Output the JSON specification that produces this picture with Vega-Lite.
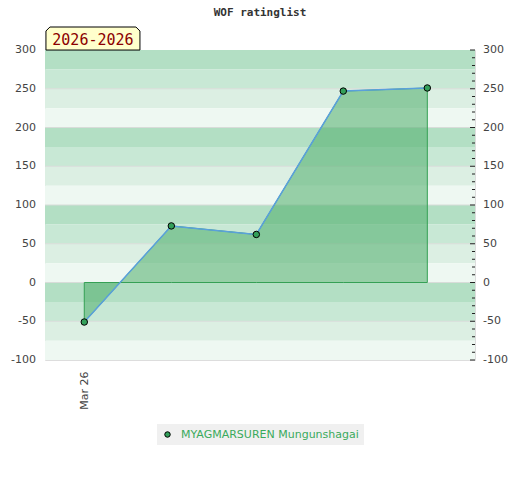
{
  "$schema": "https://vega.github.io/schema/vega-lite/v6.json",
  "width": 430,
  "height": 310,
  "autosize": "none",
  "padding": {"left": 45, "top": 50, "right": 45, "bottom": 120},
  "background": "#ffffff",
  "title": {
    "text": "WOF ratinglist",
    "font": "DejaVu Sans Mono",
    "fontSize": 11,
    "fontWeight": "bold",
    "color": "#333333",
    "anchor": "middle",
    "frame": "group",
    "offset": 7
  },
  "config": {
    "view": {"stroke": "#dddddd"},
    "axis": {"labelFont": "DejaVu Sans", "labelFontSize": 11, "labelColor": "#444444"},
    "legend": {"layout": {"bottom": {"anchor": "middle"}}}
  },
  "layer": [
    {
      "data": {"values": [
        {"lo": 275, "hi": 300, "shade": "a"}, {"lo": 250, "hi": 275, "shade": "b"},
        {"lo": 225, "hi": 250, "shade": "c"}, {"lo": 200, "hi": 225, "shade": "d"},
        {"lo": 175, "hi": 200, "shade": "a"}, {"lo": 150, "hi": 175, "shade": "b"},
        {"lo": 125, "hi": 150, "shade": "c"}, {"lo": 100, "hi": 125, "shade": "d"},
        {"lo": 75, "hi": 100, "shade": "a"}, {"lo": 50, "hi": 75, "shade": "b"},
        {"lo": 25, "hi": 50, "shade": "c"}, {"lo": 0, "hi": 25, "shade": "d"},
        {"lo": -25, "hi": 0, "shade": "a"}, {"lo": -50, "hi": -25, "shade": "b"},
        {"lo": -75, "hi": -50, "shade": "c"}, {"lo": -100, "hi": -75, "shade": "d"}
      ]},
      "mark": {"type": "rect"},
      "encoding": {
        "x": {"datum": -0.458, "type": "quantitative"},
        "x2": {"datum": 4.556},
        "y": {
          "field": "lo", "type": "quantitative",
          "scale": {"domain": [-100, 300], "nice": false},
          "axis": null
        },
        "y2": {"field": "hi"},
        "fill": {
          "field": "shade", "type": "nominal",
          "scale": {"domain": ["a", "b", "c", "d"], "range": ["#b3dfc4", "#c8e8d5", "#dcefe3", "#eef8f2"]},
          "legend": null
        }
      }
    },
    {
      "data": {"values": [
        {"v": -50}, {"v": 0}, {"v": 50}, {"v": 100}, {"v": 150}, {"v": 200}, {"v": 250}
      ]},
      "mark": {"type": "rule", "color": "#d8dcd9", "strokeWidth": 1},
      "encoding": {
        "x": {"datum": -0.458, "type": "quantitative"},
        "x2": {"datum": 4.556},
        "y": {"field": "v", "type": "quantitative", "axis": null}
      }
    },
    {
      "data": {"values": [
        {"game": 0, "rating": -51},
        {"game": 1.015, "rating": 73},
        {"game": 2.006, "rating": 62},
        {"game": 3.02, "rating": 247},
        {"game": 4.0, "rating": 251}
      ]},
      "mark": {"type": "area", "color": "#52b06e", "fillOpacity": 0.57, "stroke": "#35a055", "strokeWidth": 1},
      "encoding": {
        "x": {
          "field": "game", "type": "quantitative",
          "scale": {"domain": [-0.458, 4.556], "nice": false, "zero": false},
          "axis": {"title": null, "values": [0], "labelExpr": "'Mar 26'", "labelAngle": 270, "ticks": false, "domain": false, "grid": false, "labelPadding": 11}
        },
        "y": {"field": "rating", "type": "quantitative", "axis": null}
      }
    },
    {
      "data": {"values": [
        {"game": 0, "rating": -51},
        {"game": 1.015, "rating": 73},
        {"game": 2.006, "rating": 62},
        {"game": 3.02, "rating": 247},
        {"game": 4.0, "rating": 251}
      ]},
      "mark": {"type": "line", "color": "#5aa0dc", "strokeWidth": 1.5},
      "encoding": {
        "x": {"field": "game", "type": "quantitative"},
        "y": {"field": "rating", "type": "quantitative", "axis": null}
      }
    },
    {
      "data": {"values": [
        {"game": 0, "rating": -51, "player": "MYAGMARSUREN Mungunshagai"},
        {"game": 1.015, "rating": 73, "player": "MYAGMARSUREN Mungunshagai"},
        {"game": 2.006, "rating": 62, "player": "MYAGMARSUREN Mungunshagai"},
        {"game": 3.02, "rating": 247, "player": "MYAGMARSUREN Mungunshagai"},
        {"game": 4.0, "rating": 251, "player": "MYAGMARSUREN Mungunshagai"}
      ]},
      "mark": {"type": "point", "filled": true, "shape": "circle", "size": 42, "stroke": "#000000", "strokeWidth": 1, "opacity": 1},
      "encoding": {
        "x": {"field": "game", "type": "quantitative"},
        "y": {"field": "rating", "type": "quantitative", "axis": null},
        "color": {
          "field": "player", "type": "nominal",
          "scale": {"range": ["#33a05a"]},
          "legend": {
            "title": null,
            "orient": "bottom",
            "fillColor": "#f0f0f0",
            "padding": 5,
            "offset": 14,
            "labelFont": "DejaVu Sans",
            "labelFontSize": 11,
            "labelColor": "#3aaa5c",
            "labelOffset": 8,
            "labelLimit": 400,
            "symbolType": "circle",
            "symbolSize": 30,
            "symbolStrokeColor": "#000000",
            "symbolStrokeWidth": 1
          }
        }
      }
    },
    {
      "data": {"values": [
        {"v": -100}, {"v": -50}, {"v": 0}, {"v": 50}, {"v": 100}, {"v": 150}, {"v": 200}, {"v": 250}, {"v": 300}
      ]},
      "layer": [
        {
          "mark": {"type": "text", "font": "DejaVu Sans", "fontSize": 11, "color": "#444444", "align": "right", "baseline": "middle", "dx": -9},
          "encoding": {
            "x": {"datum": -0.458, "type": "quantitative"},
            "y": {"field": "v", "type": "quantitative", "axis": null},
            "text": {"field": "v", "type": "nominal"}
          }
        },
        {
          "mark": {"type": "text", "font": "DejaVu Sans", "fontSize": 11, "color": "#444444", "align": "left", "baseline": "middle", "dx": 8},
          "encoding": {
            "x": {"datum": 4.556, "type": "quantitative"},
            "y": {"field": "v", "type": "quantitative", "axis": null},
            "text": {"field": "v", "type": "nominal"}
          }
        },
        {
          "mark": {"type": "rule", "color": "#222222", "strokeWidth": 1},
          "encoding": {
            "x": {"datum": 4.498, "type": "quantitative"},
            "x2": {"datum": 4.556},
            "y": {"field": "v", "type": "quantitative", "axis": null}
          }
        }
      ]
    },
    {
      "data": {"values": [
        {"v": -90}, {"v": -80}, {"v": -70}, {"v": -60}, {"v": -40}, {"v": -30}, {"v": -20}, {"v": -10},
        {"v": 10}, {"v": 20}, {"v": 30}, {"v": 40}, {"v": 60}, {"v": 70}, {"v": 80}, {"v": 90},
        {"v": 110}, {"v": 120}, {"v": 130}, {"v": 140}, {"v": 160}, {"v": 170}, {"v": 180}, {"v": 190},
        {"v": 210}, {"v": 220}, {"v": 230}, {"v": 240}, {"v": 260}, {"v": 270}, {"v": 280}, {"v": 290}
      ]},
      "mark": {"type": "rule", "color": "#222222", "strokeWidth": 1},
      "encoding": {
        "x": {"datum": 4.521, "type": "quantitative"},
        "x2": {"datum": 4.556},
        "y": {"field": "v", "type": "quantitative", "axis": null}
      }
    },
    {
      "data": {"values": [{"px": 0.101, "py": 314.8, "label": "2026-2026"}]},
      "layer": [
        {
          "mark": {"type": "point", "filled": true, "shape": "M-1,0.245L-1,-0.16L-0.915,-0.245L0.915,-0.245L1,-0.16L1,0.245Z", "size": 8836, "fill": "#ffffcc", "stroke": "#000000", "strokeWidth": 1, "opacity": 1},
          "encoding": {
            "x": {"field": "px", "type": "quantitative"},
            "y": {"field": "py", "type": "quantitative", "axis": null}
          }
        },
        {
          "mark": {"type": "text", "font": "DejaVu Sans Mono", "fontSize": 15, "color": "#8b0000", "align": "center", "baseline": "middle", "dy": 1},
          "encoding": {
            "x": {"field": "px", "type": "quantitative"},
            "y": {"field": "py", "type": "quantitative", "axis": null},
            "text": {"field": "label", "type": "nominal"}
          }
        }
      ]
    }
  ]
}
